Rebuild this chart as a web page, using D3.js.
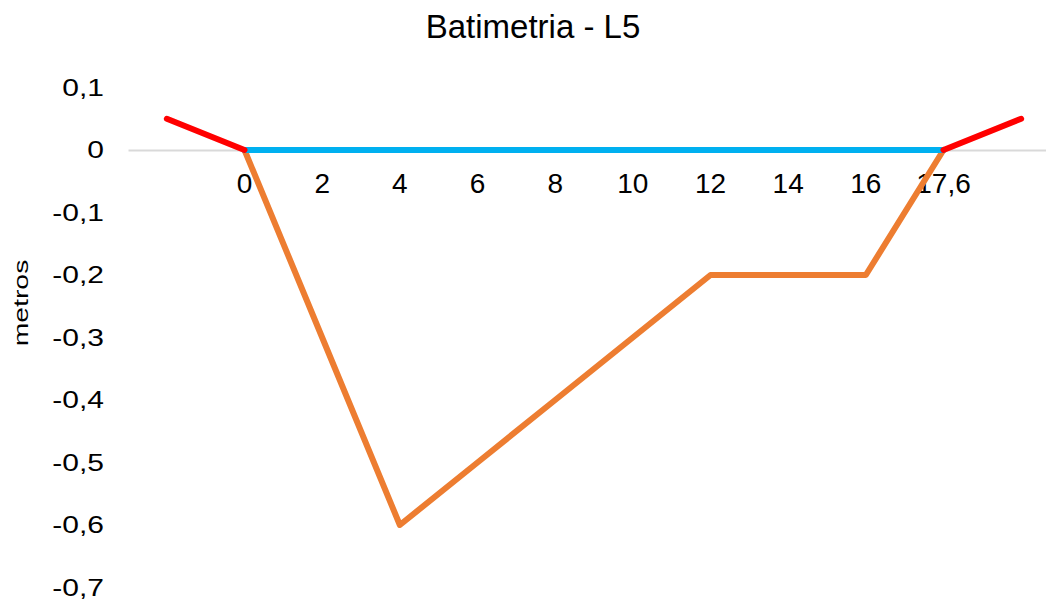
<!DOCTYPE html>
<html>
<head>
<meta charset="utf-8">
<script src="https://cdn.jsdelivr.net/npm/d3@7"></script>
<style>
  body { margin: 0; background: #fff; }
  svg { font-family: "Liberation Sans", Arial, sans-serif; }
</style>
</head>
<body>
<div id="chart"></div>
<script>
// Categorías del eje X (las de los extremos sin etiqueta)
const categories = ["a", "0", "2", "4", "6", "8", "10", "12", "14", "16", "17,6", "b"];
const tickLabels = ["", "0", "2", "4", "6", "8", "10", "12", "14", "16", "17,6", ""];
// Perfil del fondo (naranja)
const fondo = [null, 0, -0.3, -0.6, -0.5, -0.4, -0.3, -0.2, -0.2, -0.2, 0, null];
// Lámina de agua (azul)
const agua = [null, 0, 0, 0, 0, 0, 0, 0, 0, 0, 0, null];
// Márgenes (rojo)
const margen = [0.05, 0, null, null, null, null, null, null, null, null, 0, 0.05];
const yTicks = [0.1, 0, -0.1, -0.2, -0.3, -0.4, -0.5, -0.6, -0.7];

const width = 1046, height = 603;
const FONT = "Liberation Sans, Arial, sans-serif";

const svg = d3.select("#chart").append("svg")
  .attr("width", width).attr("height", height);

const x = d3.scaleBand().domain(categories).range([128, 1060]);
const cx = c => x(c) + x.bandwidth() / 2;
const y = d3.scaleLinear().domain([-0.7, 0.1]).range([587.5, 87.5]);

// ── Título ──
svg.append("text")
  .attr("x", 533).attr("y", 38)
  .attr("text-anchor", "middle")
  .attr("font-size", 33).attr("fill", "#000")
  .text("Batimetria - L5");

// ── Eje Y (solo etiquetas, algo ensanchadas como en el original) ──
const yAxis = svg.append("g")
  .attr("transform", "translate(104,0) scale(1.25,1)")
  .call(d3.axisLeft(y).tickValues(yTicks).tickSize(0).tickPadding(0)
    .tickFormat(d => d === 0 ? "0" : d3.format(".1f")(d).replace(".", ",").replace("−", "-")));
yAxis.select(".domain").remove();
yAxis.selectAll("text").attr("font-size", 24).attr("fill", "#000")
  .attr("font-family", FONT);

svg.append("text")
  .attr("transform", "translate(28,303) rotate(-90) scale(1.35,1)")
  .attr("text-anchor", "middle")
  .attr("font-size", 21).attr("fill", "#000")
  .text("metros");

// ── Eje X en y = 0 ──
const xAxis = svg.append("g")
  .attr("transform", `translate(0,${y(0)})`)
  .call(d3.axisBottom(x).tickSize(0).tickFormat((d, i) => tickLabels[i]));
xAxis.select(".domain").attr("stroke", "#d9d9d9").attr("stroke-width", 2);
xAxis.selectAll("text").attr("font-size", 28).attr("fill", "#000")
  .attr("font-family", FONT).attr("y", 43).attr("dy", 0);

// ── Series ──
const line = d3.line()
  .defined(d => d.v != null)
  .x(d => cx(d.c))
  .y(d => y(d.v));

const series = [
  { values: fondo, color: "#ed7d31" },
  { values: agua, color: "#00b0f0" },
  { values: margen, color: "#ff0000" },
];

for (const s of series) {
  svg.append("path")
    .datum(categories.map((c, i) => ({ c, v: s.values[i] })))
    .attr("d", line)
    .attr("fill", "none")
    .attr("stroke", s.color)
    .attr("stroke-width", 6)
    .attr("stroke-linecap", "round")
    .attr("stroke-linejoin", "round");
}
</script>
</body>
</html>
